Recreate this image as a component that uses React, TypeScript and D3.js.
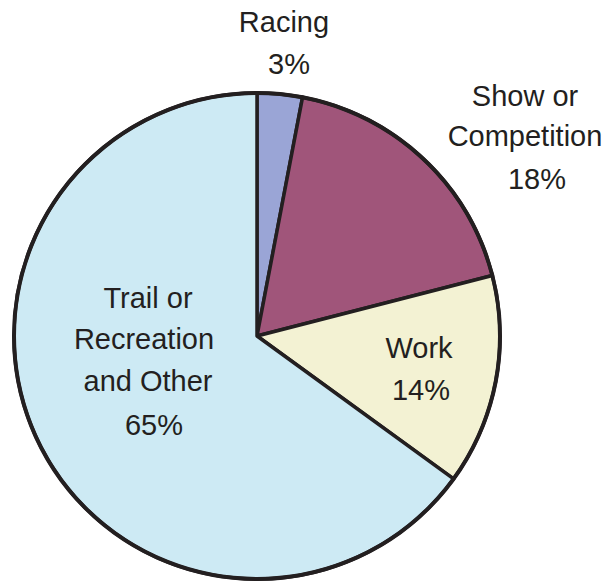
import React from "react";
import * as d3 from "d3";

const categories = ["Racing", "Show or Competition", "Work", "Trail or Recreation and Other"];
const values = [3, 18, 14, 65];
const labelLines = [["Racing", "3%"], ["Show or", "Competition", "18%"], ["Work", "14%"], ["Trail or", "Recreation", "and Other", "65%"]];
const colors = ["#9aa5d6", "#a0557a", "#f3f2d3", "#cdeaf4"];

export default function App() {
  const W = 607, H = 584;
  const cx = 257, cy = 336, r = 243;
  const pie = d3.pie<number>().sort(null).value((d) => d);
  const arcs = pie(values);
  const arc = d3.arc<d3.PieArcDatum<number>>().innerRadius(0).outerRadius(r);
  const linePos = [
    [[284, 32], [289, 74]],
    [[525, 106], [525, 146], [537, 189]],
    [[419, 358], [421, 400]],
    [[148, 308], [144, 349], [148, 391], [154, 435]],
  ];
  return (
    <svg width={W} height={H} style={{ position: "absolute", left: 0, top: 0 }}>
      <rect width={W} height={H} fill="#fff" />
      <g transform={`translate(${cx},${cy})`}>
        {arcs.map((a, i) => (
          <path key={categories[i]} d={arc(a) || ""} fill={colors[i]} stroke="#231f20" strokeWidth={3.5} strokeLinejoin="round" />
        ))}
        <circle r={r} fill="none" stroke="#231f20" strokeWidth={4} />
      </g>
      {labelLines.map((lines, i) => (
        <text key={i} textAnchor="middle" fontFamily="Liberation Sans, Arial, sans-serif" fontSize={29} fill="#231f20">
          {lines.map((l, j) => (
            <tspan key={j} x={linePos[i][j][0]} y={linePos[i][j][1]}>{l}</tspan>
          ))}
        </text>
      ))}
    </svg>
  );
}
